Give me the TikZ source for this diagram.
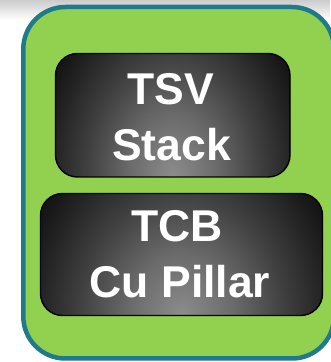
\documentclass[tikz,border=0pt]{standalone}
\usepackage{fontspec}
\setmainfont{Liberation Sans}
\definecolor{boxgreen}{HTML}{92D050}
\definecolor{boxteal}{HTML}{1F7A8C}
\pgfdeclareradialshading{glow}{\pgfpoint{0bp}{0bp}}{color(0bp)=(black!45); color(8bp)=(black!58); color(16bp)=(black!75); color(22bp)=(black!86); color(25bp)=(black!91); color(30bp)=(black!95); color(50bp)=(black)}
\begin{document}
\begin{tikzpicture}[x=1pt,y=1pt,
  chip/.style 2 args={draw=black, line width=1.4pt, fill=black, rounded corners=22pt, inner sep=0pt,
    path picture={\shade[shading=glow] ([xshift=-#1,yshift=-#2]path picture bounding box.south) rectangle ([xshift=#1,yshift=#2]path picture bounding box.south);}},
  lbl/.style={text=white, font=\fontsize{44.5}{50}\selectfont\bfseries, anchor=base, inner sep=0pt}]
\useasboundingbox (0,0) rectangle (330,362);
\shade[top color=black!20, bottom color=white] (0,342) rectangle (330,362);
\draw[draw=boxteal, fill=boxgreen, line width=4.5pt, rounded corners=42pt] (23.3,3.5) rectangle (334,355);
\node[chip={135pt}{190pt}, minimum width=234.5pt, minimum height=123.5pt] (b1) at (172.75,246.75) {};
\node[chip={160pt}{190pt}, minimum width=282pt, minimum height=122pt] (b2) at (181.5,107.5) {};
\node[lbl] (t1) at (170.5,257.5) {TSV};
\node[lbl] (t2) at (171.5,201.5) {Stack};
\node[lbl] (t3) at (177,120.5) {TCB};
\node[lbl] (t4) at (180,64) {Cu Pillar};
\end{tikzpicture}
\end{document}
